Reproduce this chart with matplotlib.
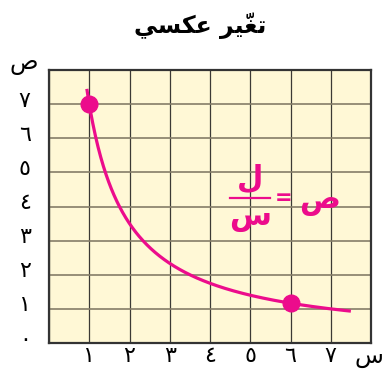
import numpy as np
import matplotlib
matplotlib.use("Agg")
import matplotlib.pyplot as plt

# Inverse variation y = k / x
k = 7
x_start, x_end = 0.94, 7.5
points_x = [1, 6]
x_ticks = [1, 2, 3, 4, 5, 6, 7]
y_ticks = [0, 1, 2, 3, 4, 5, 6, 7]
x_tick_labels = ["١", "٢", "٣", "٤", "٥", "٦", "٧"]
y_tick_labels = ["٠", "١", "٢", "٣", "٤", "٥", "٦", "٧"]

# Arabic strings written in shaped (presentation) forms, visual order
title_text = "\uFEF2\uFEB4\uFEDC\uFECB \uFEAE\uFEF4\u0651\uFED0\uFE97"
x_label = "\uFEB1"
y_label = "\uFEB9"
kaf = "\uFEDD"
sin = "\uFEB1"
sad = "\uFEB9"

pink = "#EC0C8C"

fig = plt.figure(figsize=(3.86, 3.79), dpi=100)
ax = fig.add_axes([49 / 386, 36 / 379, 322 / 386, 273 / 379])
ax.set_facecolor("#FFF8D6")
ax.set_xlim(0, 8)
ax.set_ylim(0, 8)

ax.set_xticks(range(9))
ax.set_yticks(range(9))
ax.grid(True, axis="x", color="#3c3a36", linewidth=0.9)
ax.grid(True, axis="y", color="#857d68", linewidth=1.2)
ax.tick_params(length=0, labelbottom=False, labelleft=False)
for s in ax.spines.values():
    s.set_color("#333333")
    s.set_linewidth(1.6)

# labels for ticks
for xv, lab in zip(x_ticks, x_tick_labels):
    ax.text(xv, -0.38, lab, ha="center", va="center", fontsize=16,
            family="DejaVu Sans", clip_on=False)
for yv, lab in zip(y_ticks, y_tick_labels):
    ax.text(-0.6, yv + 0.1, lab, ha="center", va="center", fontsize=16,
            family="DejaVu Sans", clip_on=False)
ax.text(7.95, -0.38, x_label, ha="center", va="center", fontsize=17,
        family="DejaVu Sans", clip_on=False)
ax.text(-0.62, 8.2, y_label, ha="center", va="center", fontsize=17,
        family="DejaVu Sans", clip_on=False)

# curve and points
xs = np.linspace(x_start, x_end, 400)
ax.plot(xs, k / xs, color=pink, linewidth=2.3, solid_capstyle="butt")
px = np.array(points_x, dtype=float)
ax.plot(px, k / px, "o", color=pink, markersize=12, zorder=5)

# equation y = k / x
ax.text(5.0, 4.8, kaf, ha="center", va="center", fontsize=22, color=pink,
        family="DejaVu Sans", fontweight="bold")
ax.plot([4.5, 5.5], [4.24, 4.24], color=pink, linewidth=1.6)
ax.text(5.0, 3.68, sin, ha="center", va="center", fontsize=22, color=pink,
        family="DejaVu Sans", fontweight="bold")
ax.text(5.83, 4.26, "=", ha="center", va="center", fontsize=15, color=pink,
        family="DejaVu Sans", fontweight="bold")
ax.text(6.72, 4.15, sad, ha="center", va="center", fontsize=22, color=pink,
        family="DejaVu Sans", fontweight="bold")

fig.text(200 / 386, 1 - 26 / 379, title_text, ha="center", va="center",
         fontsize=17, fontweight="bold", family="DejaVu Sans")

fig.savefig("out.png", dpi=100)
